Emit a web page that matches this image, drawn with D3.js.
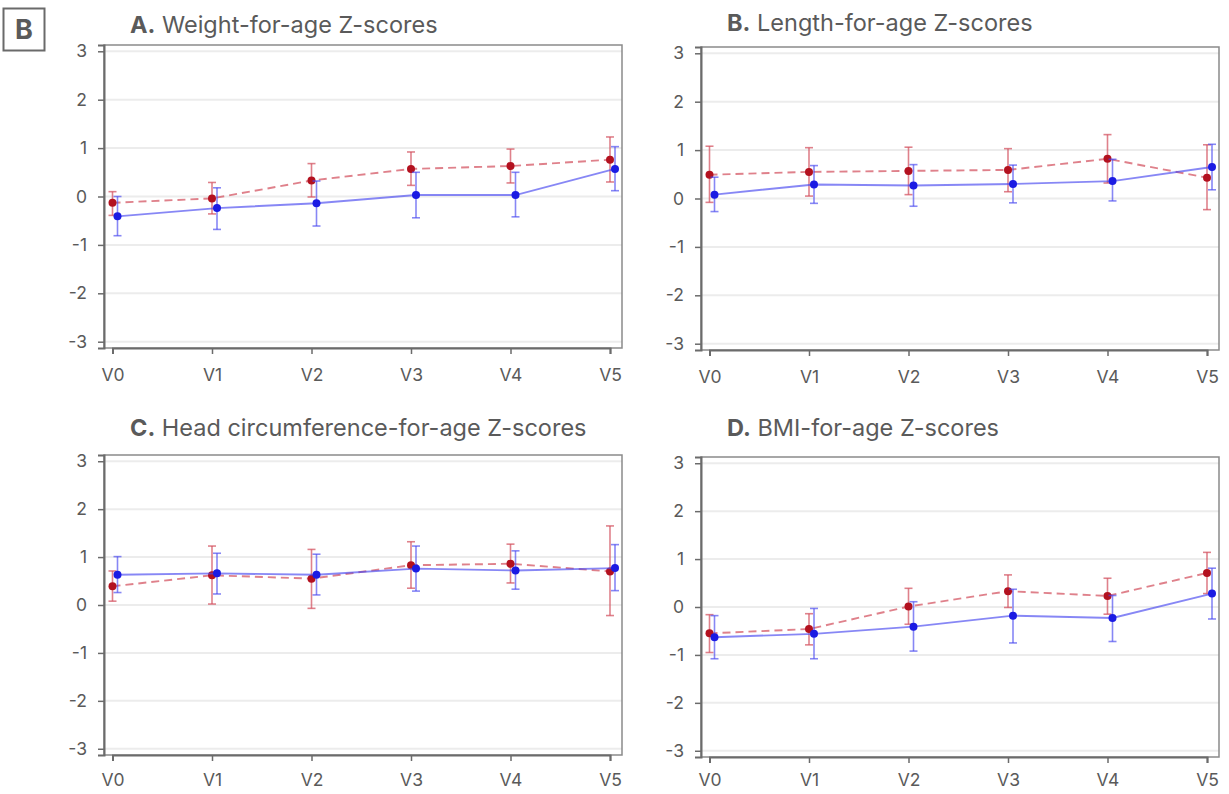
<!DOCTYPE html>
<html>
<head>
<meta charset="utf-8">
<script src="https://cdn.jsdelivr.net/npm/d3@7"></script>
<style>
  body { margin: 0; background: #fff; }
  svg { display: block; font-family: Inter, "Noto Sans", sans-serif; }
</style>
</head>
<body>
<div id="chart"></div>
<script>
// visits on the x axis
const visits = ["V0", "V1", "V2", "V3", "V4", "V5"];
const yTicks = [-3, -2, -1, 0, 1, 2, 3];

// A. Weight-for-age
const waRedMean = [-0.13, -0.04, 0.33, 0.57, 0.63, 0.76];
const waRedLow = [-0.39, -0.36, -0.01, 0.23, 0.28, 0.30];
const waRedHigh = [0.10, 0.29, 0.68, 0.92, 0.98, 1.23];
const waBlueMean = [-0.41, -0.24, -0.14, 0.03, 0.03, 0.57];
const waBlueLow = [-0.81, -0.68, -0.61, -0.44, -0.42, 0.12];
const waBlueHigh = [0.0, 0.18, 0.32, 0.50, 0.50, 1.03];

// B. Length-for-age
const laRedMean = [0.49, 0.55, 0.57, 0.59, 0.82, 0.43];
const laRedLow = [-0.08, 0.05, 0.08, 0.14, 0.32, -0.23];
const laRedHigh = [1.08, 1.05, 1.06, 1.03, 1.32, 1.11];
const laBlueMean = [0.08, 0.29, 0.27, 0.30, 0.36, 0.65];
const laBlueLow = [-0.27, -0.10, -0.16, -0.09, -0.05, 0.18];
const laBlueHigh = [0.44, 0.68, 0.70, 0.69, 0.81, 1.12];

// C. Head circumference-for-age
const hcRedMean = [0.39, 0.62, 0.55, 0.83, 0.86, 0.70];
const hcRedLow = [0.08, 0.02, -0.07, 0.35, 0.46, -0.22];
const hcRedHigh = [0.71, 1.23, 1.16, 1.32, 1.27, 1.65];
const hcBlueMean = [0.63, 0.66, 0.63, 0.76, 0.72, 0.77];
const hcBlueLow = [0.26, 0.23, 0.21, 0.29, 0.33, 0.30];
const hcBlueHigh = [1.01, 1.08, 1.06, 1.23, 1.13, 1.26];

// D. BMI-for-age
const bmRedMean = [-0.55, -0.46, 0.01, 0.33, 0.23, 0.71];
const bmRedLow = [-0.95, -0.79, -0.36, -0.01, -0.15, 0.28];
const bmRedHigh = [-0.16, -0.14, 0.39, 0.67, 0.60, 1.14];
const bmBlueMean = [-0.63, -0.56, -0.41, -0.18, -0.23, 0.28];
const bmBlueLow = [-1.08, -1.08, -0.92, -0.75, -0.72, -0.25];
const bmBlueHigh = [-0.18, -0.03, 0.11, 0.37, 0.24, 0.81];

const colors = {
  redDot: "#b3111f",
  redLine: "rgba(210, 80, 94, 0.72)",
  blueDot: "#1b1be3",
  blueLine: "rgba(70, 70, 240, 0.65)",
  text: "#5a5a5a",
  axis: "#6b6b6b",
  grid: "#ececec",
};

function series(mean, low, high) {
  return visits.map((v, i) => ({ visit: v, mean: mean[i], low: low[i], high: high[i] }));
}

const panels = [
  {
    letter: "A.", title: " Weight-for-age Z-scores",
    box: { left: 104, right: 622, top: 45, bottom: 348 }, titleY: 33, pad: 15,
    red: series(waRedMean, waRedLow, waRedHigh),
    blue: series(waBlueMean, waBlueLow, waBlueHigh),
  },
  {
    letter: "B.", title: " Length-for-age Z-scores",
    box: { left: 701, right: 1219, top: 47, bottom: 350 }, titleY: 31, pad: 15,
    red: series(laRedMean, laRedLow, laRedHigh),
    blue: series(laBlueMean, laBlueLow, laBlueHigh),
  },
  {
    letter: "C.", title: " Head circumference-for-age Z-scores",
    box: { left: 104, right: 622, top: 455, bottom: 755 }, titleY: 436, pad: 13,
    red: series(hcRedMean, hcRedLow, hcRedHigh),
    blue: series(hcBlueMean, hcBlueLow, hcBlueHigh),
  },
  {
    letter: "D.", title: " BMI-for-age Z-scores",
    box: { left: 701, right: 1219, top: 457, bottom: 757 }, titleY: 436, pad: 11,
    red: series(bmRedMean, bmRedLow, bmRedHigh),
    blue: series(bmBlueMean, bmBlueLow, bmBlueHigh),
  },
];

const svg = d3
  .select("#chart")
  .append("svg")
  .attr("width", 1229)
  .attr("height", 794);

// Panel set label "B"
svg.append("rect")
  .attr("x", 3.5).attr("y", 8.5)
  .attr("width", 41).attr("height", 42)
  .attr("fill", "none")
  .attr("stroke", "#6a6a6a")
  .attr("stroke-width", 2);
svg.append("text")
  .attr("x", 24).attr("y", 39)
  .attr("text-anchor", "middle")
  .attr("fill", "#5a5a5a")
  .style("font-size", "27px")
  .style("font-weight", 700)
  .text("B");

panels.forEach(drawPanel);

function drawPanel(p) {
  const { left, right, top, bottom } = p.box;
  const g = svg.append("g");

  const x = d3.scalePoint().domain(visits).range([left + 8.5, right - 12]);
  const y = d3.scaleLinear().domain([-3.13, 3.13]).range([bottom, top]);

  // Title
  const title = g.append("text")
    .attr("x", left + 26)
    .attr("y", p.titleY)
    .attr("fill", colors.text)
    .style("font-size", "23.5px");
  title.append("tspan").style("font-weight", 700).text(p.letter);
  title.append("tspan").text(p.title);

  // Gridlines
  g.append("g")
    .selectAll("line")
    .data(yTicks)
    .join("line")
    .attr("x1", left)
    .attr("x2", right)
    .attr("y1", (d) => y(d))
    .attr("y2", (d) => y(d))
    .attr("stroke", colors.grid)
    .attr("stroke-width", 2);

  // Frame
  g.append("rect")
    .attr("x", left).attr("y", top)
    .attr("width", right - left).attr("height", bottom - top)
    .attr("fill", "none")
    .attr("stroke", "#8a8a8a")
    .attr("stroke-width", 1.5);

  // Axes
  const yAxis = g.append("g")
    .attr("transform", `translate(${left},0)`)
    .call(d3.axisLeft(y).tickValues(yTicks).tickSize(6).tickPadding(11).tickFormat((d) => String(d)));
  const xAxis = g.append("g")
    .attr("transform", `translate(0,${bottom})`)
    .call(d3.axisBottom(x).tickSize(6).tickPadding(p.pad));

  [xAxis, yAxis].forEach((ax) => {
    ax.select(".domain").attr("stroke", colors.axis).attr("stroke-width", 2);
    ax.selectAll(".tick line").attr("stroke", colors.axis).attr("stroke-width", 1.5);
    ax.selectAll(".tick text")
      .attr("fill", colors.text)
      .style("font-size", "17.5px")
      .style("font-family", "Inter, sans-serif");
  });

  drawSeries(g, p.red, x, y, 0, colors.redLine, colors.redDot, "8,5");
  drawSeries(g, p.blue, x, y, 5, colors.blueLine, colors.blueDot, null);
}

function drawSeries(g, data, x, y, dx, lineColor, dotColor, dash) {
  const px = (d) => x(d.visit) + dx;

  const line = d3.line().x(px).y((d) => y(d.mean));
  g.append("path")
    .datum(data)
    .attr("fill", "none")
    .attr("stroke", lineColor)
    .attr("stroke-width", 1.9)
    .attr("stroke-dasharray", dash)
    .attr("d", line);

  const bars = g.append("g")
    .attr("stroke", lineColor)
    .attr("stroke-width", 1.6)
    .selectAll("g")
    .data(data)
    .join("g");

  bars.append("line")
    .attr("x1", px).attr("x2", px)
    .attr("y1", (d) => y(d.low))
    .attr("y2", (d) => y(d.high));
  bars.append("line")
    .attr("x1", (d) => px(d) - 4).attr("x2", (d) => px(d) + 4)
    .attr("y1", (d) => y(d.high)).attr("y2", (d) => y(d.high));
  bars.append("line")
    .attr("x1", (d) => px(d) - 4).attr("x2", (d) => px(d) + 4)
    .attr("y1", (d) => y(d.low)).attr("y2", (d) => y(d.low));

  g.append("g")
    .selectAll("circle")
    .data(data)
    .join("circle")
    .attr("cx", px)
    .attr("cy", (d) => y(d.mean))
    .attr("r", 4)
    .attr("fill", dotColor);
}
</script>
</body>
</html>
